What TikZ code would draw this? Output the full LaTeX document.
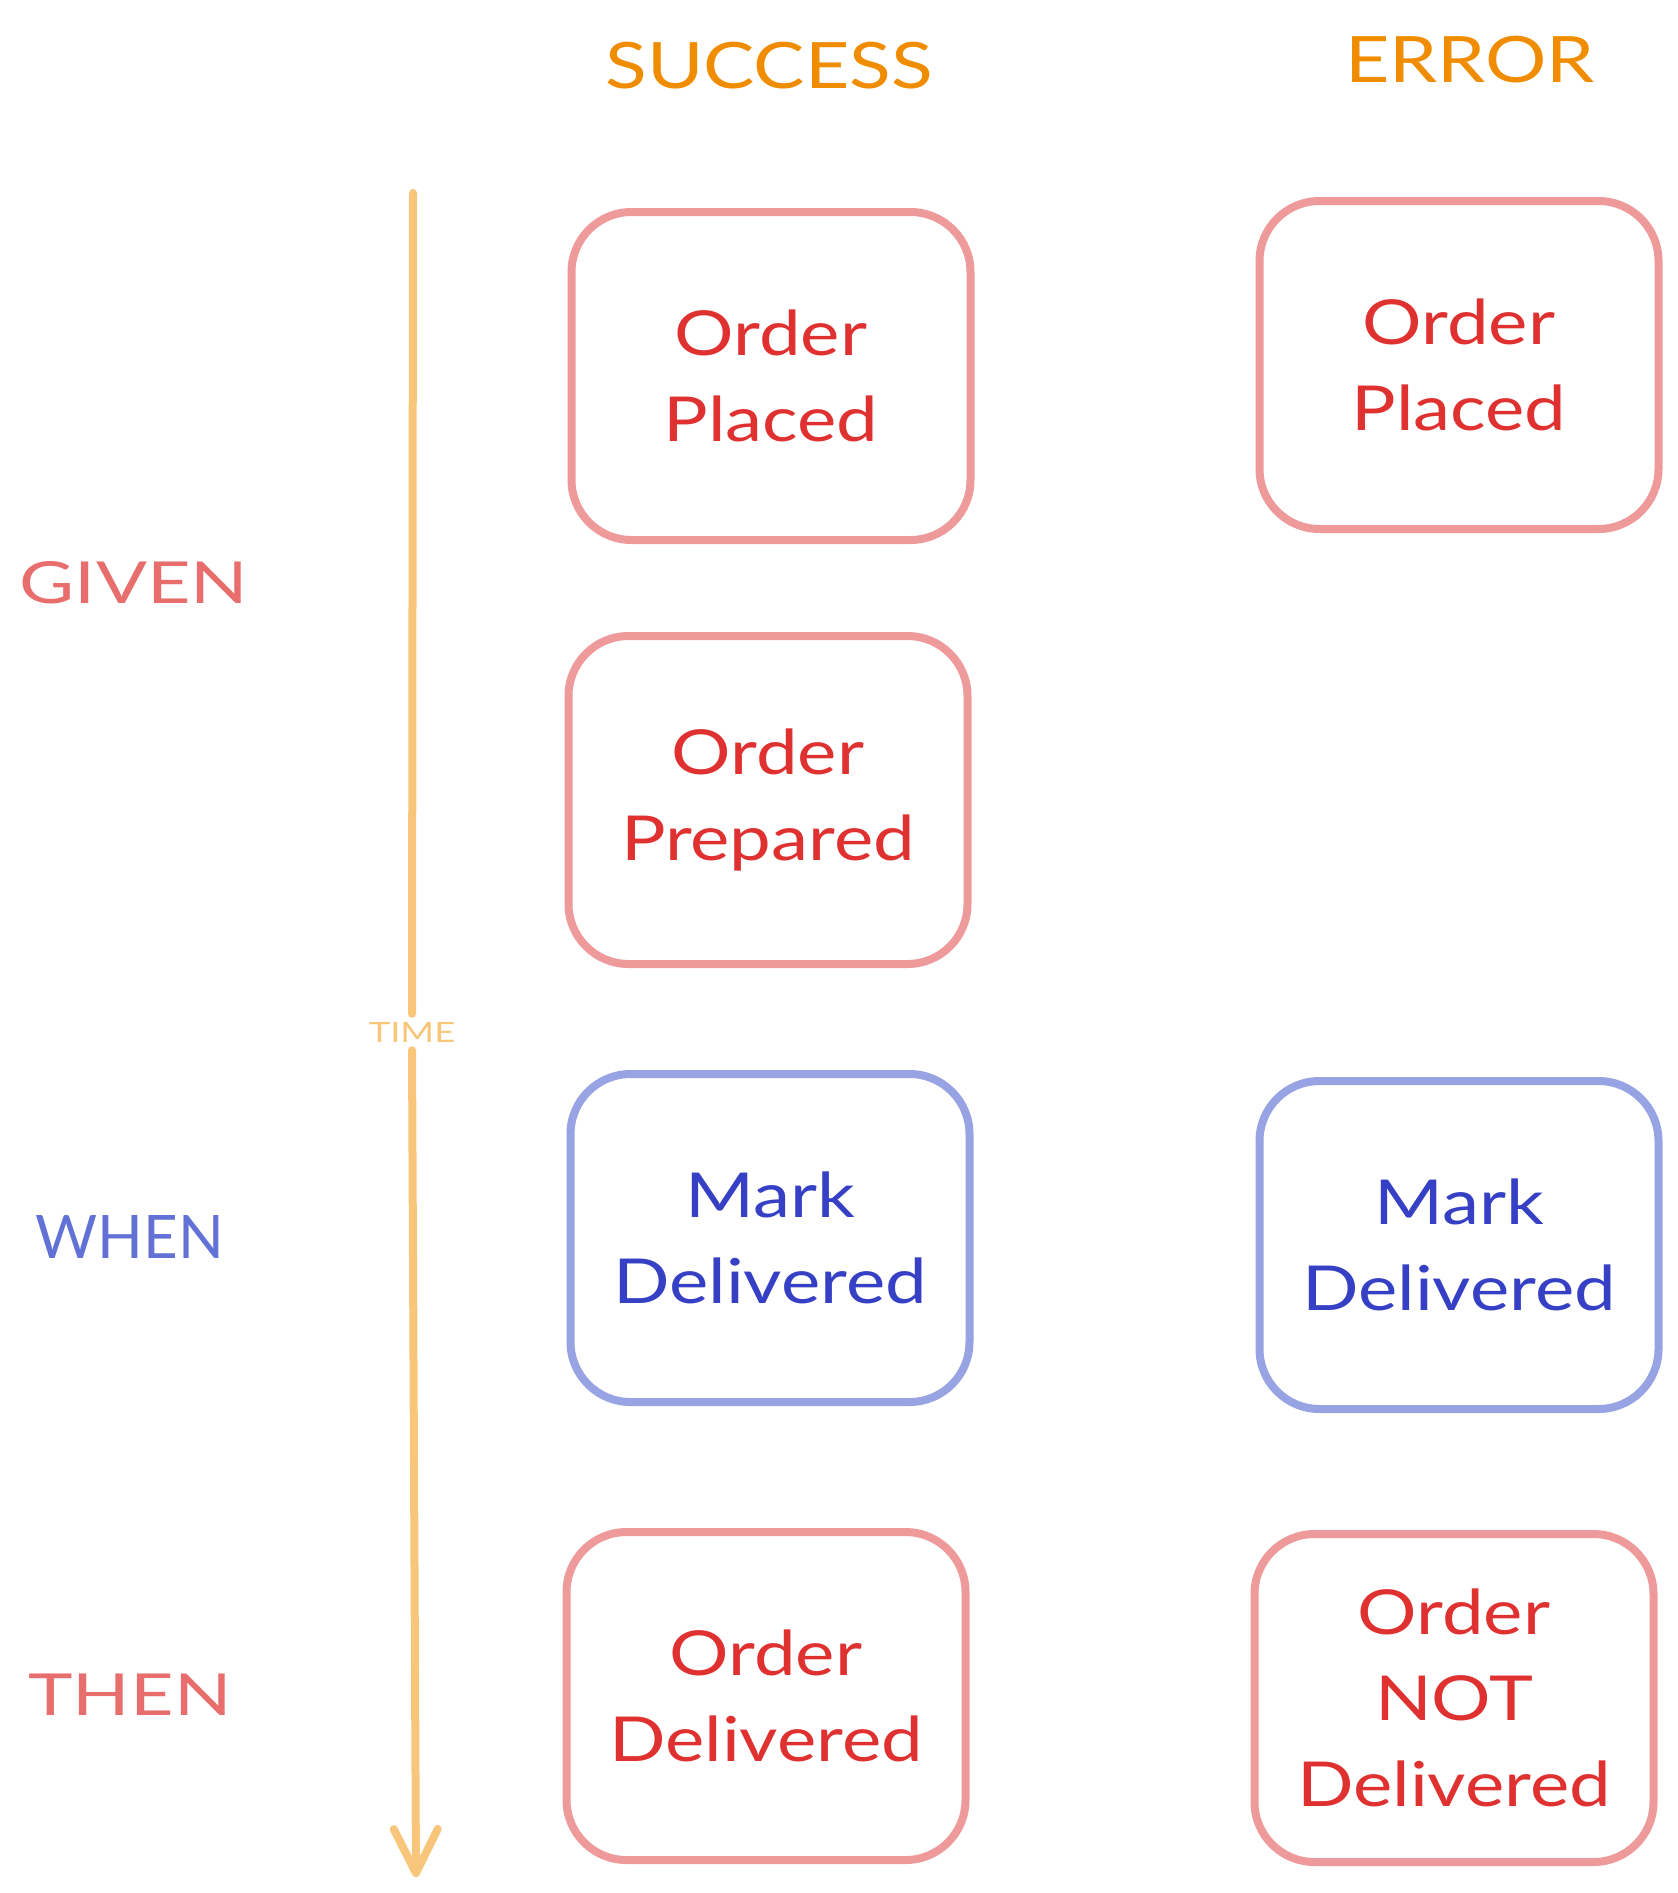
\documentclass[tikz,border=0pt]{standalone}
\usepackage{fontspec}
\setmainfont{Lato}[FakeStretch=1.2]
\newfontfamily\widefont{Lato}[FakeStretch=1.3]
\newfontfamily\plainfont{Lato}
\usetikzlibrary{arrows.meta}
\definecolor{txtred}{HTML}{E03131}
\definecolor{boxred}{HTML}{EF9A9A}
\definecolor{txtblue}{HTML}{3640C4}
\definecolor{boxblue}{HTML}{97A3E2}
\definecolor{hdrorange}{HTML}{F08C00}
\definecolor{lblred}{HTML}{E86E6E}
\definecolor{lblblue}{HTML}{6271D6}
\definecolor{timeorange}{HTML}{F8C67A}
\tikzset{
  evbox/.style={draw=boxred, line width=8pt, rounded corners=60pt, fill=white,
    text=txtred, align=center, font=\fontsize{62}{86}\selectfont,
    minimum width=399pt, minimum height=328pt, inner sep=0pt},
  cmdbox/.style={evbox, draw=boxblue, text=txtblue},
  header/.style={text=hdrorange, font=\fontsize{64}{70}\selectfont},
  phase/.style={font=\widefont\fontsize{58}{64}\selectfont},
  timelbl/.style={text=timeorange, font=\widefont\fontsize{28}{30}\selectfont, inner sep=8pt}
}
\begin{document}
\begin{tikzpicture}[x=1pt,y=-1pt]
\useasboundingbox (0,0) rectangle (1678,1893);
% headers
\node[header] (hsucc) at (769,66) {SUCCESS};
\node[header] (herr) at (1470,60) {ERROR};
% phases
\node[phase, text=lblred] (given) at (134,583) {GIVEN};
\node[phase, text=lblblue, font=\plainfont\fontsize{60}{64}\selectfont] (when) at (130,1237) {WHEN};
\node[phase, text=lblred] (then) at (130,1695) {THEN};
% time arrow
\coordinate (ttop) at (413,193);
\node[timelbl] (time) at (412,1032) {TIME};
\coordinate (tbot) at (416,1877);
\draw[timeorange, line width=8pt, line cap=round] (ttop) -- (time.north);
\draw[timeorange, line width=8pt, line cap=round,
  -{Straight Barb[length=44pt,width=44pt,line width=8pt,round]}] (time.south) -- (tbot);
% success column
\node[evbox] (s1) at (771,376) {Order\\Placed};
\node[evbox] (s2) at (768,800) {Order\\Prepared};
\node[cmdbox] (s3) at (770,1238) {Mark\\Delivered};
\node[evbox] (s4) at (766,1696) {Order\\Delivered};
% error column
\node[evbox] (e1) at (1459,365) {Order\\Placed};
\node[cmdbox] (e3) at (1459,1245) {Mark\\Delivered};
\node[evbox] (e4) at (1454,1698) {Order\\NOT\\Delivered};
\end{tikzpicture}
\end{document}
